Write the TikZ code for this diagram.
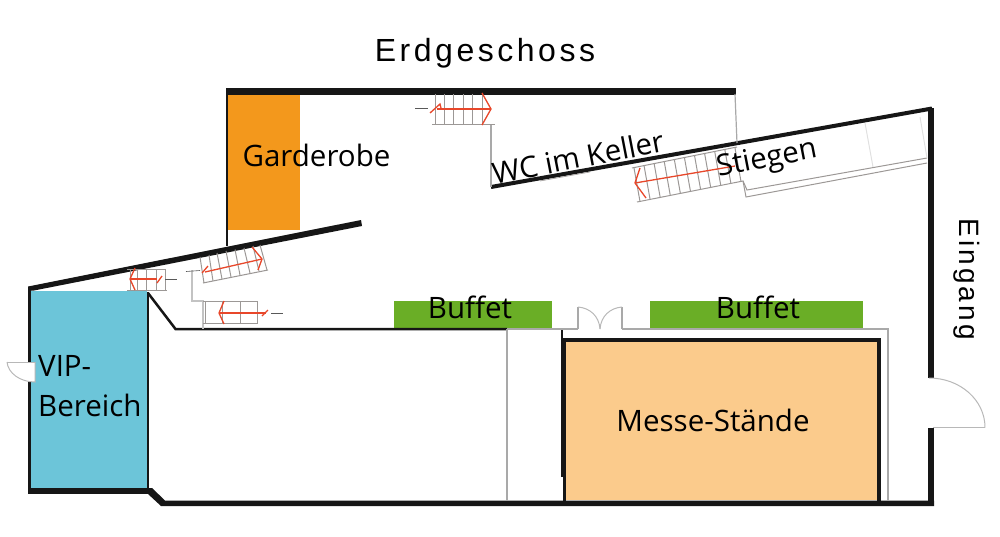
\documentclass[tikz,border=0pt]{standalone}
\usepackage{fontspec}
\setmainfont{Open Sans}
\newfontfamily\headfont[LetterSpace=11]{Liberation Sans}
\definecolor{wallblk}{HTML}{161616}
\definecolor{wallgray}{HTML}{A9A9A9}
\definecolor{treadgray}{HTML}{9C9896}
\definecolor{stairred}{HTML}{E8472A}
\definecolor{vipblue}{HTML}{6CC5D9}
\definecolor{gardorange}{HTML}{F3981C}
\definecolor{buffetgreen}{HTML}{6AAE26}
\definecolor{messepeach}{HTML}{FBCB8C}
\tikzset{
  wall/.style={draw=wallblk,line width=#1,line join=miter},
  partition/.style={draw=wallgray,line width=2.5pt},
  thinpart/.style={draw=wallgray,line width=1.2pt},
  tread/.style={draw=treadgray,line width=1pt},
  redline/.style={draw=stairred,line width=1.3pt},
  doorline/.style={draw=black!28,line width=1pt},
  tinymark/.style={draw=black!65,line width=.6pt},
  label/.style={font=\fontsize{29.5}{32}\selectfont,inner sep=0pt,text=black}
}
\begin{document}
\begin{tikzpicture}[x=1pt,y=-1pt]
\useasboundingbox (0,0) rectangle (1000,536);
% fills
\fill[vipblue] (31,291) rectangle (147,489);
\fill[gardorange] (228,95) rectangle (299.5,229.5);
\fill[buffetgreen] (394,301) rectangle (552,328);
\fill[buffetgreen] (650,301) rectangle (863,328);
\fill[messepeach] (566,342) rectangle (877,500);
% outer walls
\fill[wallblk] (226,88) -- (736,88) -- (736,95) -- (226,95) -- cycle;
\draw[wall=2pt] (226.7,94) -- (226.7,246);
\fill[wallblk] (28,286.5) -- (361,220) -- (362,226) -- (34,290.5) -- (28,291) -- cycle;
\draw[wall=3pt] (29.5,288) -- (29.5,362);
\draw[wall=3pt] (29.5,382) -- (29.5,493);
\draw[wall=6pt] (28,491) -- (148,491);
\draw[wall=2.5pt] (148,292) -- (148,490);
\draw[wall=2.5pt] (148,293) -- (175.5,329) -- (507,329);
\fill[wallblk] (148,488) -- (152,488) -- (165,500.5) -- (934,500.5) -- (934,506) -- (161,506) -- (148,494) -- cycle;
\draw[wall=6pt] (931,108) -- (931,378);
\draw[wall=6pt] (931,428) -- (931,503);
\draw[wall=4pt] (491,187) -- (932,108.5);
\draw[wall=4.5pt] (564,340.2) -- (879,340.2) -- (879,501);
\draw[wall=5pt] (563.5,338) -- (563.5,477);
\draw[wall=3.5pt] (564.3,477) -- (564.3,501);
\draw[wall=2pt] (561.5,329) -- (561.5,340);
% partitions
\draw[partition] (507,329) -- (507,500.5);
\draw[partition] (507,329) -- (578,329);
\draw[thinpart,line width=1.6pt] (578,329) -- (578,307);
\draw[thinpart,line width=1.6pt] (622,307) -- (622,329);
\draw[partition] (622,329) -- (888,329) -- (888,500.5);
\draw[doorline] (578,307) .. controls (590,308) and (599,316) .. (600,329);
\draw[doorline] (622,307) .. controls (610,308) and (601,316) .. (600,329);
\draw[thinpart] (491,125) -- (491,187);
\draw[thinpart] (735,94) -- (737,143);
\draw[thinpart,wallgray!70] (192,270) -- (192,301) -- (203,301) -- (203,329);
% entrance door
\draw[doorline] (933,427.5) -- (985,427.5);
\draw[doorline] (929,378) .. controls (960,378) and (985,400) .. (985,427.5);
% VIP door
\fill[white] (28,362) rectangle (35,382);
\draw[doorline] (7,362) -- (35,362);
\draw[doorline] (7,362) .. controls (8,373) and (20,382) .. (35,382) -- (35,362);
% stair top
\foreach \x in {435,444,453,463,472,482} \draw[tread] (\x,94) -- (\x,124);
\draw[tread] (432,124) -- (495,124);
\draw[redline] (437,109) -- (491,109);
\draw[redline] (482,93) -- (491,109) -- (482,125);
\draw[redline] (430,113) -- (440,104) -- (441,108);
\coordinate (m1a) at (415,108.5); \coordinate (m1b) at (428,108.5);
\draw[tinymark] (m1a) -- (m1b);
% stair A
\foreach \x in {130,137,146,156,165} \draw[tread] (\x,269) -- (\x,290);
\draw[tread] (127,269) -- (166,269);
\draw[tread] (127,290) -- (167,290);
\draw[redline] (130,279) -- (157,279);
\draw[redline] (135,268) -- (130,279) -- (135,290);
\draw[redline] (157,283) -- (162,276);
\coordinate (m2a) at (165,279); \coordinate (m2b) at (177,279);
\draw[tinymark] (m2a) -- (m2b);
% stair B
\foreach \a/\b/\c/\d in {200/257/204/283,209/255/213/281,217/253/222/279,226/251/231/277,235/249.5/240/275,244/248/250/273,253/246/259/271,260/245/267/270}
  \draw[tread] (\a,\b) -- (\c,\d);
\draw[tread] (203,283) -- (268,270);
\draw[redline] (205,272) -- (262,259);
\draw[redline] (252,247) -- (262,259) -- (258,270);
\draw[redline] (202,273) -- (208,266);
\coordinate (m3a) at (186,271.5); \coordinate (m3b) at (200,270.5);
\draw[tinymark] (m3a) -- (m3b);
% stair C
\foreach \x in {205,222,240,257} \draw[tread] (\x,301) -- (\x,323);
\draw[tread] (203,301) -- (257,301);
\draw[tread] (203,323) -- (258,323);
\draw[redline] (219,313) -- (266,313);
\draw[redline] (224,301) -- (219,313) -- (224,324);
\draw[redline] (262,316) -- (268,310);
\coordinate (m4a) at (271,313); \coordinate (m4b) at (283,313);
\draw[tinymark] (m4a) -- (m4b);
% stair D
\foreach \i in {0,...,10} {
  \pgfmathsetmacro{\ax}{634+\i*10.1}
  \pgfmathsetmacro{\ay}{168-\i*2}
  \draw[tread] (\ax,\ay) -- ({\ax+6},{\ay+33.5});
}
\draw[tread] (632,168) -- (737,147);
\draw[tread] (637,202) -- (743,181) -- (747,190) -- (927,158);
\draw[tread] (743,181) -- (746,197) -- (927,163);
\draw[redline] (635,183) -- (735,166);
\draw[redline] (640,168) -- (635,183) -- (646,198);
\draw[tread,black!12] (865,123) -- (873,167);
\draw[tread,black!12] (920,117) -- (927,158);
% fragment below slanted wall
\draw[tread,line width=.6pt] (540,181) -- (590,172);
% labels
\node[inner sep=0pt,font=\headfont\fontsize{32}{35}\selectfont] (title) at (485,53) {Erdgeschoss};
\node[label] (garderobe) at (316.5,155) {Garderobe};
\node[label,rotate=11] (wc) at (578,157) {WC im Keller};
\node[label,rotate=11] (stiegen) at (767,160) {Stiegen};
\node[inner sep=0pt,rotate=-90,font=\headfont\fontsize{28}{30}\selectfont] (eingang) at (967,279) {Eingang};
\node[label] (b1) at (470,307) {Buffet};
\node[label] (b2) at (758,307) {Buffet};
\node[label,anchor=west] (vip1) at (38,366) {VIP-};
\node[label,anchor=west] (vip2) at (38,405) {Bereich};
\node[label] (messe) at (713,420.5) {Messe-Stände};
\end{tikzpicture}
\end{document}
